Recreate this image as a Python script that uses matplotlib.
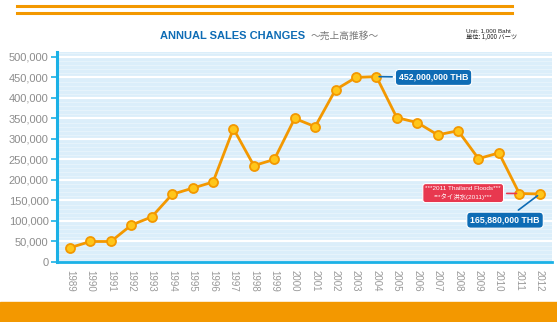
import matplotlib
matplotlib.use('Agg')
import matplotlib.pyplot as plt
from matplotlib.patches import Rectangle
from matplotlib.lines import Line2D
import numpy as np

plt.rcParams['font.family'] = ['Liberation Sans', 'Noto Sans CJK JP', 'DejaVu Sans']

# data (unit: 1,000 Baht)
years = list(range(1989, 2013))
sales = [35000, 50000, 50000, 90000, 110000, 165000, 180000, 195000, 325000, 235000,
         250000, 350000, 330000, 420000, 450000, 452000, 352000, 340000, 310000, 320000,
         252000, 266000, 167000, 165880]
yticks = list(range(0, 500001, 50000))

orange = '#f39800'
blue_line = '#1bb1e6'
bg = '#dbeefa'
dark_blue = '#0e6cb5'
red = '#e8384f'

fig = plt.figure(figsize=(5.57, 3.22), dpi=100)
ax = fig.add_axes([57 / 557, 1 - 262 / 322, 495 / 557, 210 / 322])

# decorative bars
fig.add_artist(Line2D([17 / 557, 512 / 557], [1 - 6 / 322, 1 - 6 / 322], color=orange, lw=2.2))
fig.add_artist(Line2D([17 / 557, 512 / 557], [1 - 12.5 / 322, 1 - 12.5 / 322], color=orange, lw=2.2))
fig.add_artist(Rectangle((0, 0), 1, 20 / 322, transform=fig.transFigure, color=orange, zorder=0))

# titles
fig.text(305 / 557, 1 - 36 / 322, 'ANNUAL SALES CHANGES', ha='right', va='center',
         fontsize=8, fontweight='bold', color=dark_blue)
fig.text(311 / 557, 1 - 36 / 322, '～売上高推移～', ha='left', va='center', fontsize=7,
         color='#777777', family=['Noto Sans CJK JP', 'DejaVu Sans'])
fig.text(466 / 557, 1 - 31 / 322, 'Unit: 1,000 Baht', ha='left', va='center', fontsize=4.5, color='#222222')
fig.text(466 / 557, 1 - 37 / 322, '単位: 1,000 バーツ', ha='left', va='center', fontsize=4.5, color='#222222',
         family=['Noto Sans CJK JP', 'DejaVu Sans'])

# background and stripes
ax.set_facecolor(bg)
for v in np.arange(0, 512000, 10000):
    ax.axhline(v, color='white', lw=0.4, alpha=0.6, zorder=1)
for v in yticks[1:]:
    ax.axhline(v, color='white', lw=1.6, zorder=1)

ax.plot(years, sales, color=orange, lw=2, zorder=3,
        marker='o', ms=6.5, mfc='#ffc61a', mec=orange, mew=1.3)

ax.set_xlim(1988.36, 2012.6)
ax.set_ylim(0, 512000)
ax.set_yticks(yticks)
ax.set_yticklabels([f'{v:,}' for v in yticks], fontsize=8, color='#8c8c8c')
ax.set_xticks(years)
ax.set_xticklabels([str(y) for y in years], rotation=-90, fontsize=7, color='#999999')
ax.tick_params(axis='y', color=blue_line, length=4, width=1.2, pad=2)
ax.tick_params(axis='x', length=0, pad=6)
for s in ['top', 'right']:
    ax.spines[s].set_visible(False)
ax.spines['left'].set_color(blue_line)
ax.spines['left'].set_linewidth(2.2)
ax.spines['bottom'].set_color(blue_line)
ax.spines['bottom'].set_linewidth(2)

# annotations
box_blue = dict(boxstyle='round,pad=0.4,rounding_size=0.45', fc=dark_blue, ec='white', lw=0.8)
box_red = dict(boxstyle='round,pad=0.4,rounding_size=0.45', fc=red, ec='white', lw=0.8)
ax.annotate('452,000,000 THB', xy=(years[15], sales[15]), xytext=(2006.8, 450000),
            ha='center', va='center', fontsize=6.3, fontweight='bold', color='white', bbox=box_blue,
            arrowprops=dict(arrowstyle='-', color=dark_blue, lw=1.2), zorder=5)
ax.annotate('***2011 Thailand Floods***\n***タイ洪水(2011)***', xy=(years[22], sales[22]),
            xytext=(2008.25, 168000), ha='center', va='center', fontsize=4.6, color='white',
            linespacing=1.4, bbox=box_red, family=['Liberation Sans', 'Noto Sans CJK JP'],
            arrowprops=dict(arrowstyle='-', color=red, lw=1.2), zorder=5)
ax.annotate('165,880,000 THB', xy=(years[23], sales[23]), xytext=(2010.3, 102000),
            ha='center', va='center', fontsize=6.3, fontweight='bold', color='white', bbox=box_blue,
            arrowprops=dict(arrowstyle='-', color=dark_blue, lw=1.2), zorder=5)

fig.savefig('out.png', dpi=100)
